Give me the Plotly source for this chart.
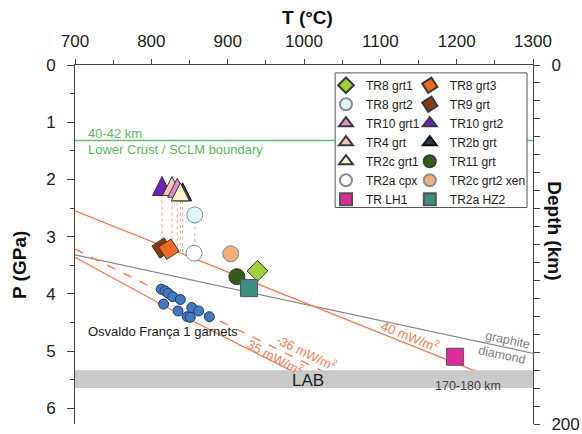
import numpy as np
import plotly.graph_objects as go

# ---------------- data ----------------
# Thermobarometric estimates (T in degC, P in GPa); triangles are anchored at their apex
sample_names = ["TR8 grt1", "TR8 grt2", "TR10 grt1", "TR4 grt", "TR2c grt1", "TR2a cpx", "TR LH1",
                "TR8 grt3", "TR9 grt", "TR10 grt2", "TR2b grt", "TR11 grt", "TR2c grt2 xen", "TR2a HZ2"]
sample_T = [939, 857, 834, 827, 838, 856, 1198,
            823, 814, 814, 841, 912, 904, 928]
sample_P = [3.60, 2.62, 1.98, 1.95, 2.06, 3.29, 5.10,
            3.22, 3.20, 1.95, 2.06, 3.70, 3.30, 3.90]

# samples whose thermometer T is projected down onto the 40 mW/m2 geotherm
linked_samples = ["TR10 grt2", "TR4 grt", "TR10 grt1", "TR2c grt1", "TR2b grt", "TR8 grt2"]

# Osvaldo Franca 1 garnets
ofr_T = [813, 818, 822, 828, 838, 816, 835, 853, 862, 847, 851, 876]
ofr_P = [3.92, 3.95, 3.99, 4.05, 4.10, 4.18, 4.30, 4.24, 4.30, 4.40, 4.41, 4.40]

# conductive geotherms (surface heat flow in mW/m2)
geo40_T = [700, 950, 1228]
geo40_P = [2.55, 3.89, 5.37]
geo36_T = [700, 860, 1024]
geo36_P = [3.22, 4.28, 5.35]
geo35_T = [700, 840, 987]
geo35_P = [3.36, 4.38, 5.37]

# graphite-diamond transition
gd_T = [700, 1000, 1300]
gd_P = [3.32, 4.18, 5.04]

# depth markers (km)
moho_depth = 42
lab_depth = [170, 180]

T_ticks = [700, 800, 900, 1000, 1100, 1200, 1300]
P_ticks = [0, 1, 2, 3, 4, 5, 6]
depth_ticks = list(range(0, 201, 10))

# ---------------- styles ----------------
FONT = "Liberation Sans, Arial, sans-serif"
GEO = "#f27b58"
EDGE = "#3a3a3a"
style = {
    "TR8 grt1":      dict(symbol="diamond", color="#9fd13a", size=16, edge=EDGE, angle=0),
    "TR8 grt2":      dict(symbol="circle", color="#dff4f4", size=16, edge="#8c8c8c", angle=0),
    "TR10 grt1":     dict(symbol="triangle-up", color="#e68bc9", size=19, edge=EDGE, angle=0),
    "TR4 grt":       dict(symbol="triangle-up", color="#f4c6b4", size=19, edge=EDGE, angle=0),
    "TR2c grt1":     dict(symbol="triangle-up", color="#faf2c6", size=18, edge=EDGE, angle=0),
    "TR2a cpx":      dict(symbol="circle", color="#ffffff", size=16, edge="#8c8c8c", angle=0),
    "TR LH1":        dict(symbol="square", color="#e02a9c", size=17, edge="#555555", angle=0),
    "TR8 grt3":      dict(symbol="diamond", color="#f26a1d", size=16, edge=EDGE, angle=12),
    "TR9 grt":       dict(symbol="diamond", color="#8b3a10", size=16, edge=EDGE, angle=12),
    "TR10 grt2":     dict(symbol="triangle-up", color="#6e1fb8", size=19, edge=EDGE, angle=0),
    "TR2b grt":      dict(symbol="triangle-up", color="#2c3a55", size=18, edge="#111111", angle=0),
    "TR11 grt":      dict(symbol="circle", color="#2f5e15", size=16, edge=EDGE, angle=0),
    "TR2c grt2 xen": dict(symbol="circle", color="#efae7f", size=16, edge="#8c8c8c", angle=0),
    "TR2a HZ2":      dict(symbol="square", color="#3b8f80", size=17, edge="#555555", angle=0),
}
legend_cols = {
    "legend": ["TR8 grt1", "TR8 grt2", "TR10 grt1", "TR4 grt", "TR2c grt1", "TR2a cpx", "TR LH1"],
    "legend2": ["TR8 grt3", "TR9 grt", "TR10 grt2", "TR2b grt", "TR11 grt", "TR2c grt2 xen", "TR2a HZ2"],
}
draw_order = ["TR9 grt", "TR8 grt3", "TR2a cpx", "TR8 grt2", "TR2c grt2 xen", "TR11 grt", "TR8 grt1",
              "TR2a HZ2", "TR LH1", "TR10 grt2", "TR4 grt", "TR10 grt1", "TR2b grt", "TR2c grt1"]

Tmap = dict(zip(sample_names, sample_T))
Pmap = dict(zip(sample_names, sample_P))

fig = go.Figure()

# LAB band and crust/mantle boundary, on the depth axis
fig.add_trace(go.Scatter(x=[700, 1300, 1300, 700, 700],
                         y=[lab_depth[0], lab_depth[0], lab_depth[1], lab_depth[1], lab_depth[0]],
                         yaxis="y2", fill="toself", fillcolor="#c9c9c9", mode="lines",
                         line=dict(width=0), showlegend=False, hoverinfo="skip"))
fig.add_trace(go.Scatter(x=[700, 1300], y=[moho_depth, moho_depth], yaxis="y2", mode="lines",
                         line=dict(color="#63bf6b", width=1.5), showlegend=False, hoverinfo="skip"))

# dotted projections onto the 40 mW/m2 geotherm
for name in linked_samples:
    t = Tmap[name]
    p_geo = float(np.interp(t, geo40_T, geo40_P))
    fig.add_trace(go.Scatter(x=[t, t], y=[Pmap[name], p_geo], mode="lines",
                             line=dict(color="#f4a28c", width=1, dash="dot"),
                             showlegend=False, hoverinfo="skip"))

# graphite-diamond and geotherms
fig.add_trace(go.Scatter(x=gd_T, y=gd_P, mode="lines", line=dict(color="#8a8a8a", width=1.3),
                         showlegend=False, hoverinfo="skip"))
fig.add_trace(go.Scatter(x=geo40_T, y=geo40_P, mode="lines", line=dict(color=GEO, width=1.3),
                         showlegend=False, hoverinfo="skip"))
fig.add_trace(go.Scatter(x=geo36_T, y=geo36_P, mode="lines", line=dict(color=GEO, width=1.3, dash="dash"),
                         showlegend=False, hoverinfo="skip"))
fig.add_trace(go.Scatter(x=geo35_T, y=geo35_P, mode="lines", line=dict(color=GEO, width=1.3),
                         showlegend=False, hoverinfo="skip"))

# Osvaldo Franca 1 garnets
fig.add_trace(go.Scatter(x=ofr_T, y=ofr_P, mode="markers",
                         marker=dict(symbol="circle", size=10, color="#4279c2",
                                     line=dict(color="#1e3b6a", width=1)),
                         showlegend=False))

# xenolith samples; triangles use the apex-anchored arrow glyph on the plot
for name in draw_order:
    s = style[name]
    leg = "legend" if name in legend_cols["legend"] else "legend2"
    rank = legend_cols[leg].index(name) + 1
    is_tri = s["symbol"] == "triangle-up"
    fig.add_trace(go.Scatter(x=[Tmap[name]], y=[Pmap[name]], mode="markers", name=name,
                             legend=leg, legendrank=rank, showlegend=not is_tri,
                             marker=dict(symbol="arrow-up" if is_tri else s["symbol"],
                                         size=s["size"], color=s["color"], angle=s["angle"],
                                         line=dict(color=s["edge"], width=1))))
    if is_tri:
        fig.add_trace(go.Scatter(x=[None], y=[None], mode="markers", name=name,
                                 legend=leg, legendrank=rank,
                                 marker=dict(symbol="triangle-up", size=s["size"], color=s["color"],
                                             line=dict(color=s["edge"], width=1))))

# ---------------- text ----------------
def note(text, x, y, color, size=13, angle=0, xanchor="center"):
    fig.add_annotation(x=x, y=y, xref="x", yref="y", text=text, showarrow=False,
                       textangle=angle, xanchor=xanchor, yanchor="middle",
                       font=dict(family=FONT, size=size, color=color))

note("Osvaldo França 1 garnets", 815, 4.66, "#1a1a1a", 13)
note("40 mW/m<sup>2</sup>", 1140, 4.73, GEO, 13, 22)
note("-36 mW/m<sup>2</sup>", 1003, 5.02, GEO, 13, 26)
note("35 mW/m<sup>2</sup>", 963, 5.10, GEO, 13, 28)
note("graphite", 1266, 4.81, "#808080", 12.5, 12)
note("diamond", 1259, 5.07, "#808080", 12.5, 12)
note("LAB", 1005, 5.52, "#222222", 17)
note("170-180 km", 1215, 5.61, "#444444", 12.5)
note("40-42 km", 714, 1.20, "#5cb864", 13, 0, "left")
note("Lower Crust / SCLM boundary", 714, 1.48, "#5cb864", 13, 0, "left")

# axis titles
title_font = dict(family=FONT, size=19, color="#111")
fig.add_annotation(x=0.507, y=1.131, xref="paper", yref="paper", text="<b>T (°C)</b>", showarrow=False,
                   xanchor="center", yanchor="middle", font=title_font)
fig.add_annotation(x=-0.12, y=0.443, xref="paper", yref="paper", text="<b>P (GPa)</b>", showarrow=False,
                   xanchor="center", yanchor="middle", textangle=-90, font=title_font)
fig.add_annotation(x=1.048, y=0.537, xref="paper", yref="paper", text="<b>Depth (km)</b>", showarrow=False,
                   xanchor="center", yanchor="middle", textangle=90, font=title_font)

# legend frame
fig.add_shape(type="rect", xref="paper", yref="paper", x0=0.568, x1=0.987, y0=0.603, y1=0.978,
              line=dict(color="#555555", width=1), fillcolor="white", layer="above")

legend_style = dict(bgcolor="rgba(0,0,0,0)", borderwidth=0, itemsizing="constant",
                    font=dict(family=FONT, size=12, color="#222222"),
                    xanchor="left", yanchor="top", tracegroupgap=0)

axis_font = dict(family=FONT, size=17, color="#222222")
fig.update_layout(
    width=582, height=434,
    margin=dict(l=75, r=49, t=65, b=10),
    paper_bgcolor="white", plot_bgcolor="white",
    font=dict(family=FONT),
    showlegend=True,
    legend=dict(x=0.548, y=0.984, **legend_style),
    legend2=dict(x=0.731, y=0.984, **legend_style),
    xaxis=dict(side="top", range=[700, 1300], tickvals=T_ticks, ticks="outside", ticklen=5,
               tickcolor="#444", showline=True, linecolor="#444", linewidth=1, showgrid=False,
               zeroline=False, tickfont=axis_font, ticklabelstandoff=5, automargin=False,
               minor=dict(dtick=50, ticks="outside", ticklen=4, tickcolor="#444")),
    yaxis=dict(range=[6.276, 0], tickvals=P_ticks, ticks="outside", ticklen=7, tickcolor="#444",
               showline=True, linecolor="#444", linewidth=1, showgrid=False, zeroline=False,
               tickfont=axis_font, ticklabelstandoff=8, automargin=False,
               minor=dict(dtick=0.5, ticks="outside", ticklen=4, tickcolor="#444")),
    yaxis2=dict(overlaying="y", side="right", range=[200, 0], tickvals=depth_ticks,
                ticktext=[str(d) if d in (0, 200) else "" for d in depth_ticks],
                ticks="outside", ticklen=6, tickcolor="#444", showline=True, linecolor="#444",
                linewidth=1, showgrid=False, zeroline=False, tickfont=axis_font,
                ticklabelstandoff=8, automargin=False),
)

fig.write_html("out.html")
